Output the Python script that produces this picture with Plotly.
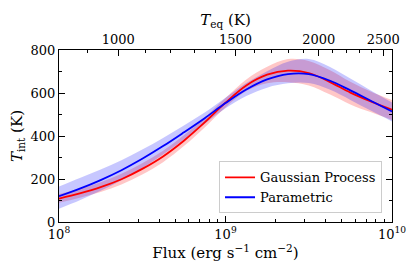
import numpy as np
import plotly.graph_objects as go

log_flux = [8.0, 8.125, 8.25, 8.375, 8.5, 8.625, 8.75, 8.875, 9.0,
            9.125, 9.25, 9.375, 9.5, 9.625, 9.75, 9.875, 10.0]

gp_mean = [109, 133, 162, 199, 247, 305, 378, 463, 555, 635, 685, 704, 693, 652, 602, 560, 522]
gp_lo = [90, 113, 140, 175, 221, 278, 353, 440, 533, 609, 645, 650, 635, 594, 547, 510, 475]
gp_hi = [130, 155, 185, 224, 273, 331, 403, 486, 577, 663, 722, 758, 749, 707, 652, 606, 567]

par_mean = [120, 155, 195, 241, 294, 353, 417, 483, 553, 616, 663, 688, 688, 658, 612, 563, 514]
par_lo = [62, 101, 145, 194, 250, 314, 384, 457, 529, 586, 625, 645, 646, 616, 568, 517, 468]
par_hi = [165, 205, 244, 287, 337, 391, 449, 509, 578, 646, 701, 745, 758, 722, 667, 611, 556]

teq_major = [1000, 1500, 2000, 2500]
teq_minor = [900, 1100, 1200, 1300, 1400, 1600, 1700, 1800, 1900, 2100, 2200, 2300, 2400]
flux_ticks = [1e8, 1e9, 1e10]
flux_labels = ["10<sup>8</sup>", "10<sup>9</sup>", "10<sup>10</sup>"]
y_ticks = [0, 200, 400, 600, 800]

SIGMA = 5.670374e-5  # erg s^-1 cm^-2 K^-4


def teq_to_flux(t):
    return 4 * SIGMA * np.asarray(t, dtype=float) ** 4


flux = 10 ** np.array(log_flux)
FONT = "DejaVu Serif"

fig = go.Figure()


def band(lo, hi, color):
    fig.add_trace(go.Scatter(x=flux, y=lo, mode="lines", line=dict(width=0, shape="spline"),
                             showlegend=False, hoverinfo="skip"))
    fig.add_trace(go.Scatter(x=flux, y=hi, mode="lines", line=dict(width=0, shape="spline"),
                             fill="tonexty", fillcolor=color, showlegend=False, hoverinfo="skip"))


band(gp_lo, gp_hi, "rgba(255,0,0,0.22)")
band(par_lo, par_hi, "rgba(0,0,255,0.22)")

fig.add_trace(go.Scatter(x=flux, y=gp_mean, mode="lines", name="Gaussian Process",
                         line=dict(color="#ff0000", width=1.8, shape="spline")))
fig.add_trace(go.Scatter(x=flux, y=par_mean, mode="lines", name="Parametric",
                         line=dict(color="#0000ff", width=1.8, shape="spline")))

# invisible trace to anchor the top axis
fig.add_trace(go.Scatter(x=[1e8, 1e10], y=[0, 0], xaxis="x2", mode="markers",
                         marker=dict(opacity=0), showlegend=False, hoverinfo="skip"))

minor_log = [m * 10 ** e for e in (8, 9) for m in range(2, 10)]

fig.update_layout(
    width=415, height=277,
    margin=dict(l=59, r=23, t=50, b=55, autoexpand=False),
    paper_bgcolor="white", plot_bgcolor="white",
    font=dict(family=FONT, size=13, color="black"),
    xaxis=dict(
        type="log", range=[8, 10], automargin=False,
        tickmode="array", tickvals=flux_ticks, ticktext=flux_labels,
        ticks="inside", ticklen=6, tickwidth=1, tickcolor="black",
        minor=dict(tickmode="array", tickvals=minor_log, ticks="inside", ticklen=3,
                   tickcolor="black", showgrid=False),
        showline=True, linecolor="black", linewidth=1.2, mirror=False,
        showgrid=False, zeroline=False,
        title=dict(text="Flux (erg s<sup>\u22121</sup> cm<sup>\u22122</sup>)",
                   font=dict(size=15, family=FONT), standoff=4),
        tickfont=dict(size=13, family=FONT),
    ),
    xaxis2=dict(
        type="log", range=[8, 10], overlaying="x", side="top", anchor="y", automargin=False,
        tickmode="array", tickvals=teq_to_flux(teq_major).tolist(),
        ticktext=[str(t) for t in teq_major],
        ticks="inside", ticklen=6, tickwidth=1, tickcolor="black",
        minor=dict(tickmode="array", tickvals=teq_to_flux(teq_minor).tolist(),
                   ticks="inside", ticklen=3, tickcolor="black", showgrid=False),
        showline=True, linecolor="black", linewidth=1.2,
        showgrid=False, zeroline=False,
        title=dict(text="<i>T</i><sub>eq</sub> (K)", font=dict(size=15, family=FONT), standoff=2),
        tickfont=dict(size=13, family=FONT),
    ),
    yaxis=dict(
        range=[0, 800], automargin=False,
        tickmode="array", tickvals=y_ticks,
        ticks="inside", ticklen=6, tickwidth=1, tickcolor="black",
        minor=dict(dtick=100, ticks="inside", ticklen=3, tickcolor="black", showgrid=False),
        showline=True, linecolor="black", linewidth=1.2, mirror="ticks",
        showgrid=False, zeroline=False,
        title=dict(text="<i>T</i><sub>int</sub> (K)", font=dict(size=15, family=FONT), standoff=4),
        tickfont=dict(size=13, family=FONT),
    ),
    legend=dict(
        x=0.97, y=0.05, xanchor="right", yanchor="bottom", traceorder="normal",
        bgcolor="rgba(255,255,255,0.85)", bordercolor="#cccccc", borderwidth=1,
        font=dict(size=13, family=FONT), tracegroupgap=0,
    ),
)

fig.write_html("out.html", config={"displayModeBar": False},
               post_script="document.body.style.margin='0px';")
